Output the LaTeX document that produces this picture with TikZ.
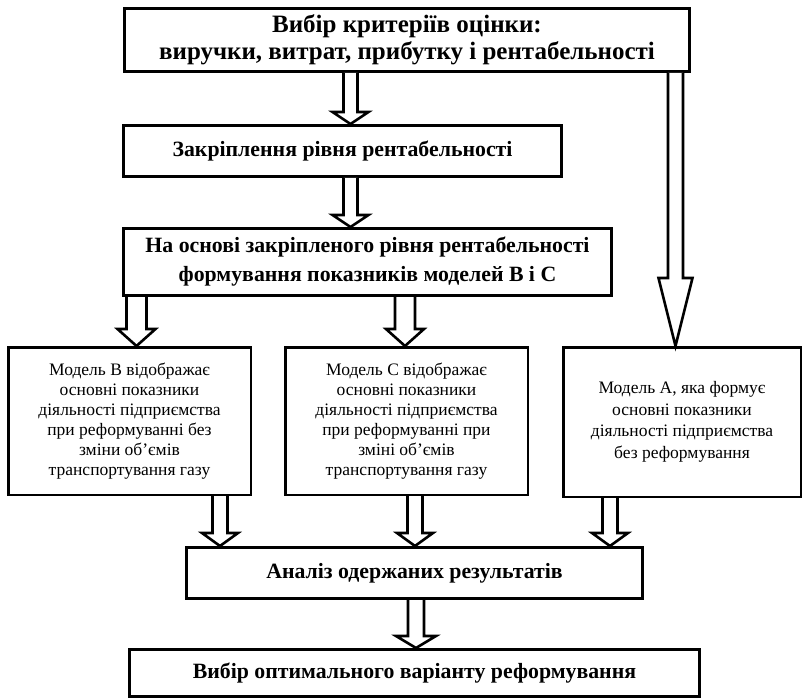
\documentclass[tikz,border=0pt]{standalone}
\usepackage{fontspec}
\setmainfont{Liberation Serif}
\usetikzlibrary{calc}
\tikzset{
  boldbox/.style={draw, line width=3pt, rectangle, inner sep=0pt, align=center,
    font=\fontsize{21.8}{29}\selectfont\bfseries},
  bigbold/.style={font=\fontsize{25}{27}\selectfont\bfseries},
  modelbox/.style={draw, line width=2.5pt, rectangle, inner sep=0pt, align=center,
    font=\fontsize{17.5}{20}\selectfont},
  arrowline/.style={draw, line width=2.6pt, fill=white, miter limit=10}
}
\newcommand{\hollowarrow}[5]{%
  \draw[arrowline] let \p1=(#1), \p2=(#2) in
    (\x2-#3pt,\y1) -- (\x2-#3pt,\y2+#5pt) -- (\x2-#4pt,\y2+#5pt) -- (\x2,\y2)
    -- (\x2+#4pt,\y2+#5pt) -- (\x2+#3pt,\y2+#5pt) -- (\x2+#3pt,\y1);}
\begin{document}
\begin{tikzpicture}[x=1pt,y=-1pt]
\useasboundingbox (0,0) rectangle (804,698);
% boxes
\node[boldbox, bigbold, minimum width=565pt, minimum height=63pt] (top) at (407,40)
  {Вибір критеріїв оцінки:\\виручки, витрат, прибутку і рентабельності};
\node[boldbox, minimum width=438pt, minimum height=51pt] (fix) at (342.5,151)
  {Закріплення рівня рентабельності};
\node[boldbox, minimum width=488pt, minimum height=67pt] (basis) at (367.5,262)
  {На основі закріпленого рівня рентабельності\\формування показників моделей В і С};
\node[modelbox, minimum width=242.5pt, minimum height=147.5pt] (mB) at (129.5,421)
  {Модель В відображає\\основні показники\\діяльності підприємства\\при реформуванні без\\зміни об'ємів\\транспортування газу};
\node[modelbox, minimum width=242.5pt, minimum height=147.5pt] (mC) at (406.5,421)
  {Модель С відображає\\основні показники\\діяльності підприємства\\при реформуванні при\\зміні об'ємів\\транспортування газу};
\node[modelbox, minimum width=237.5pt, minimum height=149.5pt, font=\fontsize{17.5}{21.5}\selectfont] (mA) at (682,422)
  {Модель А, яка формує\\основні показники\\діяльності підприємства\\без реформування};
\node[boldbox, minimum width=456pt, minimum height=51pt] (an) at (414.5,573)
  {Аналіз одержаних результатів};
\node[boldbox, minimum width=570pt, minimum height=47pt] (fin) at (414.5,673)
  {Вибір оптимального варіанту реформування};
% arrow axes
\coordinate (x1) at (350.5,0);
\coordinate (x2) at (350.5,0);
\coordinate (xr) at (675.5,0);
\coordinate (xb) at (136.5,0);
\coordinate (xc) at (405,0);
\coordinate (xbb) at (220,0);
\coordinate (xcc) at (415,0);
\coordinate (xaa) at (610,0);
\coordinate (xf) at (416,0);
% arrows
\hollowarrow{top.south -| x1}{fix.north -| x1}{7}{18}{12}
\hollowarrow{fix.south -| x2}{basis.north -| x2}{7}{18}{12}
\hollowarrow{top.south -| xr}{mA.north -| xr}{7.5}{17}{68}
\hollowarrow{basis.south -| xb}{mB.north -| xb}{10}{19}{17}
\hollowarrow{basis.south -| xc}{mC.north -| xc}{10}{19}{17}
\hollowarrow{mB.south -| xbb}{an.north -| xbb}{7.5}{18}{13}
\hollowarrow{mC.south -| xcc}{an.north -| xcc}{7.5}{18}{13}
\hollowarrow{mA.south -| xaa}{an.north -| xaa}{7.5}{18}{13}
\hollowarrow{an.south -| xf}{fin.north -| xf}{8}{20}{12}
\end{tikzpicture}
\end{document}
